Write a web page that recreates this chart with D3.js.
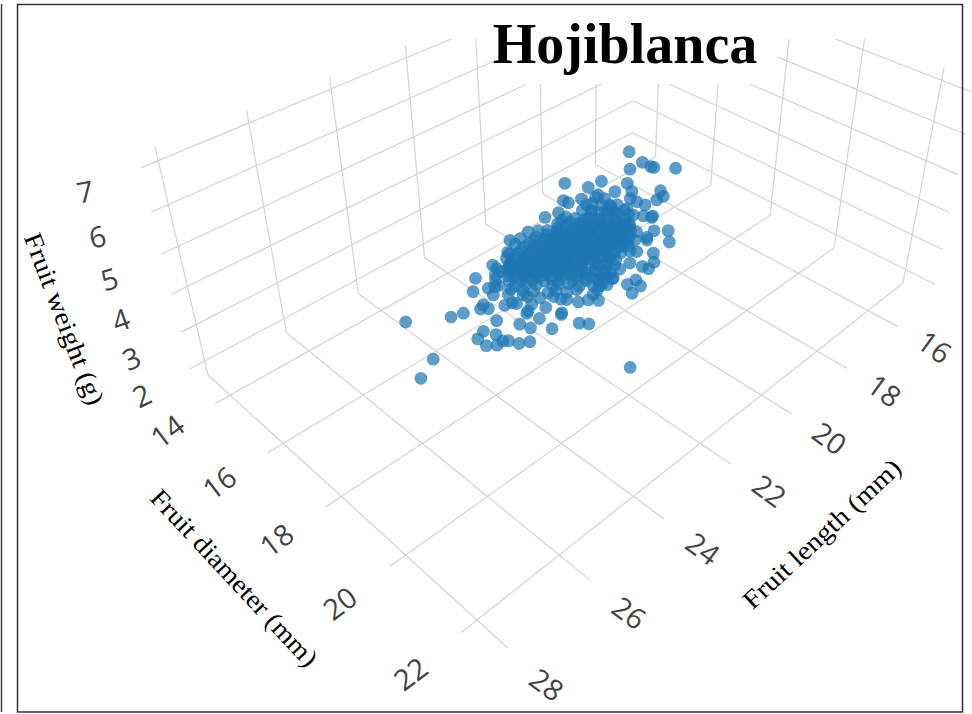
<!DOCTYPE html>
<html>
<head>
<meta charset="utf-8">
<script src="https://cdn.jsdelivr.net/npm/d3@7"></script>
<style>
  body { margin: 0; background: #fff; }
  .tick { font-family: "Open Sans"; font-size: 29px; fill: #444; text-anchor: middle; dominant-baseline: central; }
  .axis-title { font-family: "Liberation Serif"; font-size: 26px; fill: #000; text-anchor: middle; dominant-baseline: central; }
</style>
</head>
<body>
<div id="container"></div>
<script>
/* DATA */
const lengthTicks = [16, 18, 20, 22, 24, 26, 28];
const diameterTicks = [14, 16, 18, 20, 22];
const weightTicks = [2, 3, 4, 5, 6, 7];

const fruitLength = [25.45,24.92,24.67,26.94,27.86,23.36,22.95,22.16,23.59,24.14,24.36,24.29,24.82,25.42,25.81,26.12,26.08,25.54,25.83,25.81,25.94,25.81,24.90,25.07,24.52,25.06,24.66,24.71,24.23,24.14,24.31,24.19,15.33,15.47,15.47,15.44,
  15.06,15.96,17.67,17.37,16.92,17.02,16.51,16.72,16.28,16.57,16.89,17.33,17.99,17.90,18.62,18.76,19.31,19.23,20.13,20.69,21.02,21.13,20.91,22.19,21.89,22.22,22.70,23.28,23.29,23.45,22.50,22.58,18.26,18.24,17.88,18.82,19.23,
  20.16,20.78,20.58,20.92,19.99,21.47,22.40,22.01,23.18,23.31,23.59,24.03,23.86,23.87,23.38,23.83,23.92,23.27,23.37,22.77,22.95,21.33,21.89,22.45,20.17,19.39,19.00,18.06,18.00,17.75,17.24,17.13,17.44,17.77,18.06,19.17,17.55,
  17.46,17.91,17.87,17.83,17.64,18.40,18.36,18.34,18.16,18.12,17.89,18.96,18.92,18.89,18.72,18.68,18.46,18.46,18.42,19.41,19.38,19.35,19.18,19.15,18.94,18.94,18.91,18.70,18.72,19.87,19.84,19.81,19.63,19.61,19.40,19.41,19.39,
  19.18,19.19,18.98,20.34,20.31,20.28,20.11,20.08,19.88,19.89,19.87,19.66,19.68,19.47,19.46,19.48,20.75,20.72,20.70,20.53,20.51,20.31,20.32,20.30,20.10,20.12,19.92,19.91,19.93,21.17,21.15,21.12,20.96,20.94,20.74,20.74,20.74,
  20.55,20.56,20.37,20.36,20.38,20.19,21.55,21.53,21.51,21.35,21.33,21.14,21.16,21.15,20.96,20.98,20.79,20.78,20.81,21.93,21.91,21.89,21.73,21.72,21.54,21.55,21.55,21.36,21.28,21.09,21.12,22.29,22.27,22.26,22.10,22.09,21.91,
  21.93,21.93,21.74,21.75,21.57,21.57,21.61,22.55,22.54,22.54,22.39,22.36,22.06,22.08,22.08,21.90,21.94,22.79,22.78,22.73,22.59,22.43,22.26,22.31,23.15,23.14,23.11,22.96,22.96,22.67,23.45,23.44,23.38,
  19.18,19.14,19.03,18.99,18.90,19.64,19.60,19.52,19.45,19.38,19.28,19.20,20.10,20.06,19.98,19.90,19.82,19.75,19.68,19.60,
  20.54,20.50,20.42,20.35,20.28,20.20,20.12,20.05,19.98,20.96,20.92,20.85,20.78,20.70,20.62,20.55,20.48,20.40,
  21.35,21.32,21.25,21.17,21.10,21.02,20.95,20.88,20.80,20.60,21.72,21.70,21.62,21.55,21.47,21.40,21.30,21.22,21.15,
  22.10,22.05,22.00,21.92,21.84,21.76,21.68,21.60,21.50,22.42,22.38,22.30,22.22,22.15,22.00,21.90,21.85,22.67,22.60,22.52,22.40,22.30,22.20,22.12,
  20.30,20.22,20.15,20.07,20.00,20.75,20.68,20.60,20.52,20.45,20.36,21.15,21.08,21.00,20.92,20.85,20.78,
  21.55,21.50,21.42,21.35,21.27,21.20,21.10,21.90,21.85,21.78,21.70,21.60,21.52,22.25,22.18,22.10,22.02,21.95,19.90,19.82,19.75,19.68,19.60,
  18.70,18.66,18.60,18.55,18.50,19.20,19.10,19.02,18.95,18.88,19.45,19.40,19.35,19.90,19.85,19.78,18.22,18.18,18.10,18.30,17.95,
  22.30,22.25,22.60,22.55,22.85,22.80,23.10,23.00,23.20,23.45,21.95,21.70,21.40];

const fruitDiameter = [17.06,17.86,17.94,19.94,20.84,21.24,16.24,15.90,16.93,17.92,18.10,18.26,19.13,19.46,19.77,20.38,20.62,19.96,20.48,20.61,21.03,21.16,19.88,20.36,20.00,20.91,21.18,21.47,20.28,20.20,19.42,19.32,13.74,14.36,14.67,14.75,
  15.19,14.36,13.62,14.19,14.23,14.82,14.78,15.14,15.74,16.09,16.15,16.15,16.96,16.91,18.03,17.72,18.66,17.91,18.91,19.42,19.39,19.66,18.94,20.05,20.00,20.42,20.64,20.31,20.05,19.94,18.70,19.09,14.17,14.33,14.45,14.57,14.51,
  14.90,14.93,15.09,15.27,15.08,15.69,16.48,16.29,17.16,17.10,17.59,18.46,18.50,18.63,18.28,19.03,19.53,19.06,19.54,19.21,19.85,19.04,19.38,19.54,18.46,18.06,17.39,16.42,16.70,15.92,15.79,15.46,14.62,15.35,14.81,15.05,14.64,
  14.88,14.87,15.16,15.45,15.49,15.00,15.29,15.54,15.58,15.86,15.97,14.98,15.27,15.56,15.57,15.86,15.96,16.19,16.48,15.15,15.42,15.71,15.73,16.01,16.12,16.33,16.62,16.72,16.91,15.28,15.57,15.86,15.89,16.17,16.27,16.48,16.77,
  16.87,17.09,17.18,15.37,15.66,15.95,15.99,16.28,16.38,16.60,16.88,16.99,17.20,17.30,17.58,17.78,15.58,15.87,16.16,16.20,16.49,16.59,16.81,17.09,17.20,17.41,17.51,17.77,17.99,15.75,16.04,16.33,16.37,16.66,16.76,16.98,17.27,
  17.37,17.58,17.69,17.97,18.18,18.28,16.00,16.29,16.58,16.62,16.91,17.01,17.23,17.52,17.62,17.83,17.93,18.21,18.43,16.25,16.54,16.83,16.87,17.16,17.26,17.48,17.77,17.87,18.38,18.48,18.69,16.54,16.84,17.13,17.16,17.45,17.55,
  17.77,18.06,18.19,18.45,18.55,18.83,19.04,17.07,17.36,17.65,17.68,18.05,18.52,18.77,19.09,19.19,19.40,17.71,18.03,18.47,18.50,19.34,19.44,19.61,18.00,18.33,18.73,18.80,19.12,19.69,18.49,18.85,19.39,
  15.35,15.64,15.90,16.20,16.50,15.40,15.70,15.98,16.25,16.55,16.82,17.10,15.50,15.80,16.10,16.40,16.68,16.95,17.25,17.50,
  15.50,15.80,16.10,16.40,16.70,17.00,17.28,17.55,17.85,15.65,15.95,16.25,16.55,16.85,17.15,17.45,17.72,18.00,
  15.85,16.15,16.45,16.75,17.05,17.35,17.65,17.95,18.25,18.00,16.10,16.40,16.70,17.00,17.30,17.60,17.90,18.20,18.45,
  16.40,16.70,17.00,17.30,17.60,17.90,18.20,18.50,18.80,16.90,17.20,17.50,17.80,18.10,18.40,18.70,19.00,17.40,17.70,18.00,18.30,18.60,18.90,19.20,
  15.85,16.15,16.45,16.75,17.05,16.00,16.30,16.60,16.90,17.20,17.50,16.20,16.50,16.80,17.10,17.40,17.70,
  16.30,16.60,16.90,17.20,17.50,17.80,18.10,16.60,16.90,17.20,17.50,17.80,18.10,17.00,17.30,17.60,17.90,18.20,15.70,16.00,16.30,16.60,16.90,
  15.50,15.80,16.10,16.40,16.70,15.85,16.15,16.45,16.75,17.00,16.90,17.20,17.45,17.20,17.50,17.80,15.70,16.00,16.30,15.20,15.60,
  16.20,16.60,16.50,16.85,16.80,17.20,17.20,17.60,17.70,17.90,16.30,15.85,15.55];

const fruitWeight = [3.88,4.16,4.16,5.61,6.34,4.00,3.17,2.93,3.54,4.06,4.18,4.24,4.75,5.04,5.28,5.68,5.81,5.33,5.67,5.74,6.01,6.05,5.15,5.44,5.13,5.74,5.79,5.97,5.22,5.16,4.80,4.73,2.00,2.00,2.00,2.00,
  2.00,2.00,2.00,2.00,2.00,2.00,2.00,2.01,2.11,2.24,2.31,2.37,2.71,2.68,3.17,3.08,3.52,3.23,3.77,4.09,4.14,4.28,3.93,4.67,4.59,4.85,5.06,5.03,4.90,4.88,4.12,4.31,2.00,2.00,2.00,2.09,2.12,
  2.34,2.42,2.45,2.55,2.38,2.77,3.19,3.06,3.58,3.57,3.82,4.29,4.28,4.34,4.09,4.52,4.78,4.42,4.67,4.40,4.74,4.05,4.31,4.49,3.60,3.31,3.01,2.55,2.63,2.35,2.25,2.14,2.00,2.19,2.08,2.27,2.00,
  2.02,2.08,2.15,2.23,2.21,2.17,2.25,2.32,2.31,2.39,2.39,2.23,2.31,2.39,2.38,2.46,2.46,2.53,2.62,2.33,2.41,2.50,2.49,2.57,2.58,2.65,2.73,2.74,2.80,2.43,2.52,2.61,2.60,2.69,2.69,2.76,2.86,
  2.86,2.93,2.93,2.52,2.61,2.70,2.69,2.79,2.79,2.87,2.97,2.97,3.05,3.05,3.15,3.22,2.64,2.73,2.83,2.82,2.92,2.93,3.01,3.11,3.11,3.19,3.20,3.29,3.38,2.75,2.85,2.95,2.94,3.04,3.05,3.13,3.24,
  3.25,3.33,3.34,3.44,3.53,3.53,2.89,2.99,3.10,3.09,3.19,3.20,3.29,3.40,3.41,3.49,3.50,3.61,3.70,3.03,3.14,3.25,3.24,3.35,3.36,3.45,3.56,3.57,3.76,3.77,3.86,3.19,3.30,3.42,3.41,3.52,3.54,
  3.63,3.74,3.77,3.87,3.88,4.00,4.10,3.44,3.56,3.68,3.67,3.81,3.96,4.07,4.21,4.22,4.32,3.74,3.88,4.06,4.05,4.39,4.41,4.49,3.93,4.07,4.24,4.25,4.39,4.60,4.20,4.36,4.60,
  2.37,2.45,2.52,2.61,2.69,2.44,2.53,2.61,2.69,2.78,2.86,2.94,2.53,2.62,2.71,2.80,2.89,2.97,3.07,3.14,
  2.58,2.68,2.77,2.87,2.96,3.06,3.15,3.23,3.33,2.69,2.79,2.88,2.98,3.08,3.18,3.28,3.37,3.46,
  2.81,2.91,3.01,3.11,3.21,3.31,3.42,3.52,3.63,3.49,2.95,3.06,3.16,3.26,3.36,3.47,3.57,3.68,3.77,
  3.11,3.22,3.33,3.44,3.54,3.65,3.76,3.87,3.98,3.35,3.47,3.58,3.69,3.80,3.90,4.01,4.13,3.59,3.71,3.82,3.93,4.04,4.15,4.27,
  2.67,2.76,2.86,2.95,3.04,2.78,2.88,2.97,3.07,3.17,3.26,2.91,3.00,3.10,3.20,3.31,3.41,
  3.00,3.10,3.20,3.31,3.41,3.52,3.62,3.16,3.27,3.37,3.48,3.58,3.69,3.37,3.48,3.58,3.69,3.81,2.57,2.66,2.75,2.84,2.93,
  2.30,2.39,2.47,2.56,2.64,2.53,2.61,2.69,2.78,2.86,2.91,3.00,3.08,3.08,3.18,3.28,2.35,2.44,2.52,2.21,2.29,
  3.07,3.21,3.22,3.35,3.38,3.53,3.58,3.73,3.81,3.93,3.05,2.85,2.71];

/* SCALES: each axis goes to 0..1 inside the scene box */
const width = 972, height = 714;
const uScale = d3.scaleLinear().domain([28, 14.53]).range([0, 1]);
const vScale = d3.scaleLinear().domain([13.11, 22]).range([0, 1]);
const tScale = d3.scaleLinear().domain([1.6, 7.3]).range([0, 1]);

// camera of the 3d scene, fitted to the box corners in the picture
const cam = [
  [613.07, 175.98, -72.3, 208],
  [-186.62, 124.1, -246.3, 375],
  [0.29916, -0.195, -0.1245, 1]
];
const project = (u, v, t) => {
  const p = cam.map(r => r[0] * u + r[1] * v + r[2] * t + r[3]);
  return [p[0] / p[2], p[1] / p[2]];
};

const overhangU = -0.027, overhangV = 1.09; // grid lines run a bit past the box
const labelU = -0.11, labelV = 1.2;

const svg = d3.select('#container').append('svg')
  .attr('width', width)
  .attr('height', height)
  .style('display', 'block');

/* GRID */
const line = d3.line();
const gridPaths = [];
lengthTicks.forEach(l => {
  const u = uScale(l);
  gridPaths.push([project(u, 0, 0), project(u, 0, 1)]);           // back left wall
  gridPaths.push([project(u, 0, 0), project(u, overhangV, 0)]);   // floor
});
diameterTicks.forEach(d => {
  const v = vScale(d);
  gridPaths.push([project(1, v, 0), project(1, v, 1)]);           // back right wall
  gridPaths.push([project(1, v, 0), project(overhangU, v, 0)]);   // floor
});
weightTicks.forEach(w => {
  const t = tScale(w);
  gridPaths.push([project(overhangU, 0, t), project(1, 0, t), project(1, overhangV, t)]);
});

svg.append('g').selectAll('path')
  .data(gridPaths)
  .join('path')
  .attr('d', line)
  .attr('fill', 'none')
  .attr('stroke', '#d4d4d4')
  .attr('stroke-width', 1.2);

// the title was pasted on top, it hides the upper part of the grid
svg.append('rect').attr('x', 0).attr('y', 0).attr('width', width).attr('height', 39).attr('fill', '#fff');
svg.append('rect').attr('x', 493).attr('y', 39).attr('width', 285).attr('height', 45).attr('fill', '#fff');

/* POINTS */
svg.append('g').selectAll('circle')
  .data(fruitLength.map((l, i) => project(uScale(l), vScale(fruitDiameter[i]), tScale(fruitWeight[i]))))
  .join('circle')
  .attr('cx', d => d[0])
  .attr('cy', d => d[1])
  .attr('r', 6.4)
  .attr('fill', '#1f77b4')
  .attr('fill-opacity', 0.72);

/* TICK LABELS */
const tickLabel = (value, pos, angle) => svg.append('text')
  .attr('class', 'tick')
  .attr('transform', `translate(${pos[0]},${pos[1]}) rotate(${angle})`)
  .text(value);

const weightAngle = d3.scaleLinear().domain([2, 7]).range([-26, -10]);
weightTicks.forEach(w => tickLabel(w, project(labelU, 0, tScale(w)), weightAngle(w)));
diameterTicks.forEach(d => tickLabel(d, project(labelU, vScale(d), 0), -37));
lengthTicks.forEach(l => tickLabel(l, project(uScale(l), labelV, 0), 36));

/* AXIS TITLES */
const axisTitle = (txt, x, y, angle, len) => svg.append('text')
  .attr('class', 'axis-title')
  .attr('transform', `translate(${x},${y}) rotate(${angle})`)
  .attr('textLength', len)
  .attr('lengthAdjust', 'spacingAndGlyphs')
  .text(txt);

axisTitle('Fruit weight (g)', 64, 319, 69, 182);
axisTitle('Fruit diameter (mm)', 234, 578, 47, 232);
axisTitle('Fruit length (mm)', 822, 534, -43, 206);

/* TITLE */
svg.append('text')
  .attr('x', 625)
  .attr('y', 63)
  .attr('text-anchor', 'middle')
  .attr('font-family', 'Liberation Serif')
  .attr('font-weight', 'bold')
  .attr('font-size', 56)
  .attr('fill', '#000')
  .text('Hojiblanca');

/* FRAME */
svg.append('rect')
  .attr('x', 17.5).attr('y', 4.5).attr('width', 945).attr('height', 707.5)
  .attr('fill', 'none').attr('stroke', '#333').attr('stroke-width', 1.5);
svg.append('line')
  .attr('x1', 1.5).attr('x2', 1.5).attr('y1', 4).attr('y2', 712)
  .attr('stroke', '#444').attr('stroke-width', 1.5);
</script>
</body>
</html>
